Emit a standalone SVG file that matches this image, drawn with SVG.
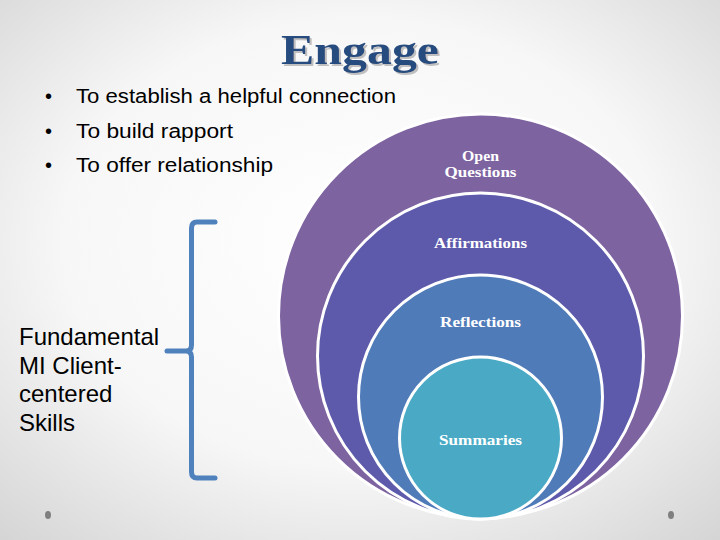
<svg xmlns="http://www.w3.org/2000/svg" width="720" height="540" viewBox="0 0 720 540">
  <defs>
    <radialGradient id="bg" cx="50%" cy="45%" r="75%">
      <stop offset="0" stop-color="#ffffff"/>
      <stop offset="0.55" stop-color="#f7f7f7"/>
      <stop offset="1" stop-color="#d4d4d4"/>
    </radialGradient>
    <filter id="shadow" x="-10%" y="-20%" width="120%" height="150%">
      <feDropShadow dx="2" dy="2" stdDeviation="0.6" flood-color="#9a9a9a" flood-opacity="0.6"/>
    </filter>
    <style>
      .bullet { font-family: "Liberation Sans", Arial, sans-serif; font-size: 20px; fill: #000; }
      .side { font-family: "Liberation Sans", Arial, sans-serif; font-size: 24px; fill: #000; }
      .lbl { font-family: "Liberation Serif", "DejaVu Serif", serif; font-weight: bold; font-size: 14px; fill: #fff; text-anchor: middle; }
      .ring { stroke: #fff; stroke-width: 3; }
      .dot { fill: #7f7f7f; }
    </style>
  </defs>
  <rect width="720" height="540" fill="url(#bg)"/>

  <g id="title">
    <text x="360" y="64" font-family="Liberation Serif, serif" font-weight="bold" font-size="43" fill="#284c7e" text-anchor="middle" textLength="158" lengthAdjust="spacingAndGlyphs" filter="url(#shadow)">Engage</text>
  </g>

  <g id="bullets">
    <text class="bullet" x="45" y="103">•</text>
    <text class="bullet" x="76" y="103" textLength="320" lengthAdjust="spacingAndGlyphs">To establish a helpful connection</text>
    <text class="bullet" x="45" y="138">•</text>
    <text class="bullet" x="76" y="138" textLength="157" lengthAdjust="spacingAndGlyphs">To build rapport</text>
    <text class="bullet" x="45" y="172">•</text>
    <text class="bullet" x="76" y="172" textLength="197" lengthAdjust="spacingAndGlyphs">To offer relationship</text>
  </g>

  <g id="skills-label">
    <text class="side" x="19" y="345">Fundamental</text>
    <text class="side" x="19" y="374">MI Client-</text>
    <text class="side" x="19" y="402">centered</text>
    <text class="side" x="19" y="431">Skills</text>
  </g>

  <g id="connectors">
    <path d="M215,222 L197,222 Q191.5,222 191.5,228 L191.5,345 Q191.5,351 186,351 L167,351 M186,351 Q191.5,351 191.5,357 L191.5,472 Q191.5,478 197,478 L215,478" fill="none" stroke="#4f81bd" stroke-width="5" stroke-linecap="round" stroke-linejoin="round"/>
  </g>

  <g id="open-questions">
    <circle class="ring" cx="480.5" cy="316" r="202" fill="#7e63a1"/>
    <text class="lbl" x="480.5" y="161" textLength="37" lengthAdjust="spacingAndGlyphs">Open</text>
    <text class="lbl" x="480.5" y="177" textLength="72" lengthAdjust="spacingAndGlyphs">Questions</text>
  </g>
  <g id="affirmations">
    <circle class="ring" cx="480.5" cy="356" r="163" fill="#5d5aab"/>
    <text class="lbl" x="480.5" y="248" textLength="93" lengthAdjust="spacingAndGlyphs">Affirmations</text>
  </g>
  <g id="reflections">
    <circle class="ring" cx="480.5" cy="397" r="122" fill="#4f7bb9"/>
    <text class="lbl" x="480.5" y="327" textLength="81" lengthAdjust="spacingAndGlyphs">Reflections</text>
  </g>
  <g id="summaries">
    <circle class="ring" cx="480.5" cy="438" r="81" fill="#4aaac5"/>
    <text class="lbl" x="480.5" y="445" textLength="83" lengthAdjust="spacingAndGlyphs">Summaries</text>
  </g>

  <ellipse class="dot" cx="48" cy="515" rx="3" ry="4"/>
  <ellipse class="dot" cx="671" cy="515" rx="3" ry="4"/>
</svg>
